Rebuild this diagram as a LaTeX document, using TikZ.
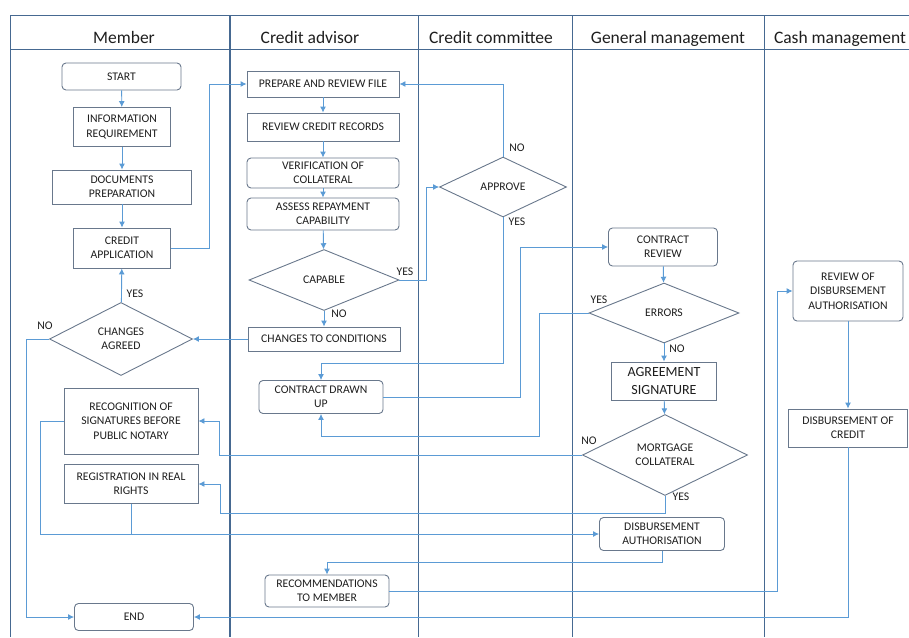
\documentclass[tikz,border=0pt]{standalone}
\usepackage{fontspec}
\setmainfont{Carlito}
\usetikzlibrary{shapes.geometric,arrows.meta}
\definecolor{lanecol}{RGB}{70,105,145}
\definecolor{boxcol}{RGB}{105,120,140}
\definecolor{flowcol}{RGB}{91,155,213}
\definecolor{txtcol}{RGB}{30,30,30}
\begin{document}
\begin{tikzpicture}[x=1pt,y=-1pt,
  every node/.style={text=txtcol},
  box/.style={draw=boxcol,line width=0.9pt,rectangle,align=center,inner sep=1pt,font=\fontsize{11.7}{14.3}\selectfont},
  rbox/.style={box,rounded corners=4pt},
  dec/.style={draw=boxcol,line width=0.9pt,diamond,align=center,inner sep=0pt,font=\fontsize{11.7}{14.3}\selectfont},
  lbl/.style={inner sep=0pt,font=\fontsize{11.7}{13}\selectfont},
  head/.style={anchor=base,inner sep=0pt,font=\fontsize{17.5}{20}\selectfont},
  lane/.style={draw=lanecol,line width=1pt},
  flow/.style={draw=flowcol,line width=0.9pt,-{Latex[length=6pt,width=6pt]}},
  link/.style={draw=flowcol,line width=0.9pt}]
\useasboundingbox (0,0) rectangle (909,637);
% lanes
\draw[lane] (10,15)--(909,15) (10,49)--(909,49);
\foreach \x in {10,418,572,764} \draw[lane] (\x,15)--(\x,637);
\draw[lane,line width=1.7pt] (230,15)--(230,637);
\node[head] (tmember) at (124,43) {Member};
\node[head] (tadvisor) at (310,43) {Credit advisor};
\node[head] (tcommittee) at (491,43) {Credit committee};
\node[head] (tgeneral) at (668,43) {General management};
\node[head] (tcash) at (840,43) {Cash management};
% member
\node[rbox,minimum width=119,minimum height=27] (start) at (121.5,76.5) {START};
\node[box,minimum width=97,minimum height=39] (info) at (122,127) {INFORMATION\\REQUIREMENT};
\node[box,minimum width=139,minimum height=34] (docs) at (122,187) {DOCUMENTS\\PREPARATION};
\node[box,minimum width=97,minimum height=40] (capp) at (122,248) {CREDIT\\APPLICATION};
\node[dec,minimum width=143,minimum height=73] (agreed) at (121,339) {CHANGES\\AGREED};
\node[box,minimum width=134,minimum height=66] (recog) at (131,421) {RECOGNITION OF\\SIGNATURES BEFORE\\PUBLIC NOTARY};
\node[box,minimum width=134,minimum height=39] (regis) at (131,484) {REGISTRATION IN REAL\\RIGHTS};
\node[rbox,minimum width=119,minimum height=27] (finish) at (134,617) {END};
% credit advisor
\node[box,minimum width=152,minimum height=26] (prep) at (323,84) {PREPARE AND REVIEW FILE};
\node[box,minimum width=152,minimum height=28] (recs) at (323,127) {REVIEW CREDIT RECORDS};
\node[rbox,minimum width=152,minimum height=30] (verif) at (323,173) {VERIFICATION OF\\COLLATERAL};
\node[rbox,minimum width=152,minimum height=32] (assess) at (323,214) {ASSESS REPAYMENT\\CAPABILITY};
\node[dec,minimum width=150,minimum height=61] (capable) at (324,280) {CAPABLE};
\node[box,minimum width=152,minimum height=24] (chg) at (324,339) {CHANGES TO CONDITIONS};
\node[rbox,minimum width=124,minimum height=33] (drawn) at (321,397) {CONTRACT DRAWN\\UP};
\node[rbox,minimum width=124,minimum height=32] (recom) at (327,591) {RECOMMENDATIONS\\TO MEMBER};
% credit committee
\node[dec,minimum width=127,minimum height=60] (approve) at (503,187) {APPROVE};
% general management
\node[rbox,minimum width=109,minimum height=38] (crev) at (663,247) {CONTRACT\\REVIEW};
\node[dec,minimum width=150,minimum height=60] (errors) at (664,313) {ERRORS};
\node[box,minimum width=105,minimum height=38,font=\fontsize{14}{18}\selectfont] (agree) at (664,381) {AGREEMENT\\SIGNATURE};
\node[dec,minimum width=165,minimum height=79] (mortg) at (665,455) {MORTGAGE\\COLLATERAL};
\node[rbox,minimum width=125,minimum height=33] (disba) at (662,534) {DISBURSEMENT\\AUTHORISATION};
% cash management
\node[rbox,minimum width=110,minimum height=60] (rdisb) at (848,291) {REVIEW OF\\DISBURSEMENT\\AUTHORISATION};
\node[box,minimum width=119,minimum height=38] (disbc) at (848,428) {DISBURSEMENT OF\\CREDIT};
% yes / no
\node[lbl] (ycap) at (405,272) {YES};
\node[lbl] (ncap) at (339,314) {NO};
\node[lbl] (yagr) at (135,294) {YES};
\node[lbl] (nagr) at (45,326) {NO};
\node[lbl] (napp) at (517,148) {NO};
\node[lbl] (yapp) at (517,222) {YES};
\node[lbl] (yerr) at (599,300) {YES};
\node[lbl] (nerr) at (677,349) {NO};
\node[lbl] (nmor) at (589,441) {NO};
\node[lbl] (ymor) at (681,497) {YES};
% connectors
\draw[flow] (start)--(info);
\draw[flow] (info)--(docs);
\draw[flow] (docs)--(capp);
\draw[flow] (capp.east)--++(38,0)|-(prep.west);
\draw[flow] (prep)--(recs);
\draw[flow] (recs)--(verif);
\draw[flow] (verif)--(assess);
\draw[flow] (assess)--(capable);
\draw[flow] (capable.east)--++(27,0)|-(approve.west);
\draw[flow] (capable)--(chg);
\draw[flow] (chg)--(agreed);
\draw[flow] (agreed)--(capp);
\draw[flow] (agreed.west)--++(-23,0)|-(finish.west);
\draw[flow] (approve.north)|-(prep.east);
\draw[flow] (approve.south)--++(0,146)-|(drawn.north);
\draw[flow] (drawn.east)--++(137,0)|-(crev.west);
\draw[flow] (crev)--(errors);
\draw[flow] (errors.west)--++(-49,0)--++(0,123)-|(drawn.south);
\draw[flow] (errors)--(agree);
\draw[flow] (agree)--(mortg);
\draw[flow] (mortg.west)--++(-363,0)|-(recog.east);
\draw[flow] (mortg.south)--++(0,17)--++(-445,0)|-(regis.east);
\draw[flow] (recog.west)--++(-23,0)|-(disba.west);
\draw[link] (regis.south)--++(0,30);
\draw[flow] (disba.south)--++(0,11)-|(recom.north);
\draw[flow] (recom.east)--++(388,0)|-(rdisb.west);
\draw[flow] (rdisb)--(disbc);
\draw[flow] (disbc.south)|-(finish.east);
\end{tikzpicture}
\end{document}
